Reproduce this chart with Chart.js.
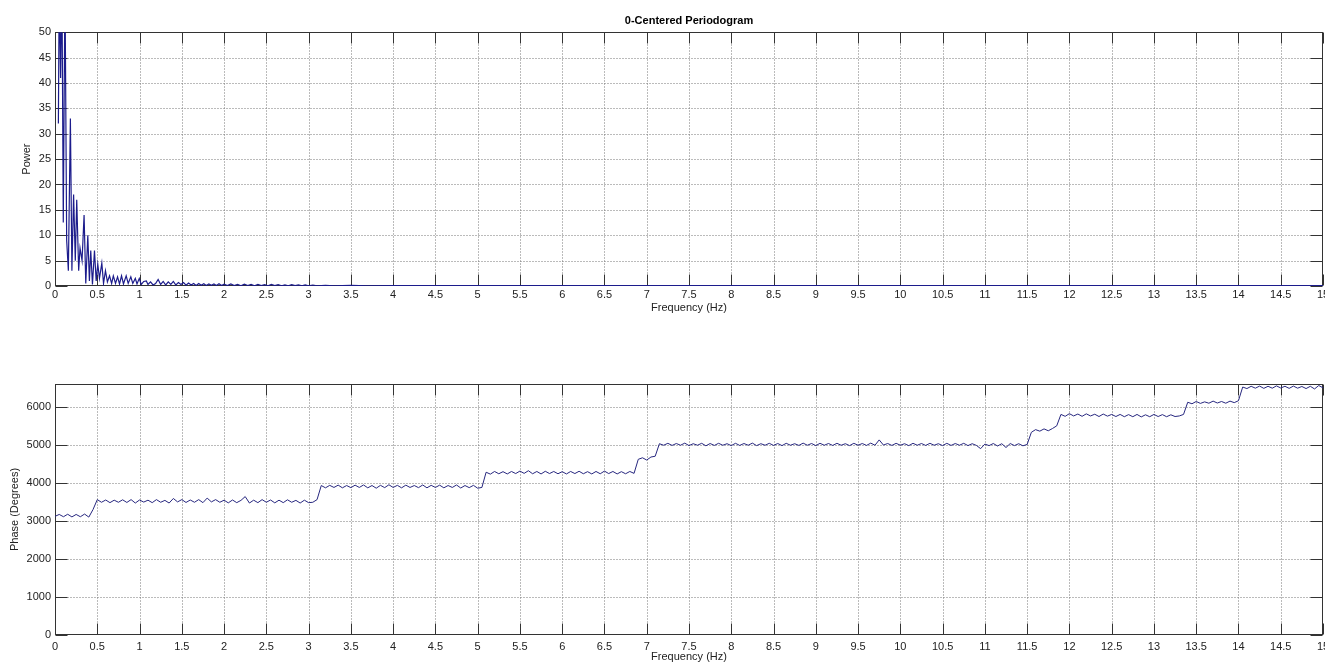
<!DOCTYPE html>
<html><head><meta charset="utf-8">
<script src="https://cdn.jsdelivr.net/npm/chart.js@4.4.1/dist/chart.umd.min.js"></script>
<style>
html,body{margin:0;padding:0;background:#fff;width:1325px;height:666px;overflow:hidden}
canvas{position:absolute;left:0}
#c1{top:0}
#c2{top:340px}
</style></head><body>
<canvas id="c1" width="1325" height="330"></canvas>
<canvas id="c2" width="1325" height="326"></canvas>
<script>
// ---------- data ----------
const chartTitle = '0-Centered Periodogram';
const xLabel = 'Frequency (Hz)';
const yLabelTop = 'Power';
const yLabelBottom = 'Phase (Degrees)';

// tick values
const freqTicks = [0,0.5,1,1.5,2,2.5,3,3.5,4,4.5,5,5.5,6,6.5,7,7.5,8,8.5,9,9.5,10,10.5,11,11.5,12,12.5,13,13.5,14,14.5,15];
const powerTicks = [0,5,10,15,20,25,30,35,40,45,50];
const phaseTicks = [0,1000,2000,3000,4000,5000,6000];
const freqRange = [0, 15];
const powerRange = [0, 50];
const phaseRange = [0, 6600];

// periodogram: frequency (Hz) and power
const powerFreq = [
  0.04,0.05,0.066,0.082,0.098,0.118,0.138,0.158,0.182,0.2,0.22,0.24,0.257,0.28,0.296,0.32,0.344,0.364,0.388,0.407,
  0.423,0.443,0.467,0.487,0.506,0.526,0.554,0.574,0.597,0.62,0.645,0.67,0.69,0.716,0.74,0.763,0.787,0.81,0.842,0.866,
  0.897,0.92,0.95,0.97,0.997,1.02,1.05,
  1.08,1.1,1.13,1.16,1.19,1.22,1.25,1.28,1.31,1.34,1.37,1.4,1.43,1.46,1.49,1.52,1.55,1.58,1.61,1.64,
  1.67,1.7,1.73,1.76,1.79,1.82,1.85,1.88,1.91,1.94,1.97,
  2.0,2.04,2.08,2.12,2.16,2.2,2.24,2.28,2.32,2.36,2.4,2.44,2.48,2.52,2.56,2.6,2.64,2.68,2.72,2.76,
  2.8,2.84,2.88,2.92,2.96,3.0,
  3.05,3.1,3.2,3.3,3.5,3.7,4,4.5,5,6,7,8,9,10,11,12,13,14,15
];
const power = [
  32,60,41,60,12.5,60,9,3,33,3,18,5,17,3,7.5,5,14,0.5,10,1,
  7,0.3,7,1,4.3,1.5,4.5,0.5,3,0.8,2,0.5,2,0.5,1.8,0.4,2,0.4,2,0.5,
  1.8,0.5,1.5,0.4,1.5,0.3,0.9,
  1.0,0.3,0.8,0.2,0.5,1.3,0.3,0.9,0.2,0.8,0.3,0.9,0.2,0.7,0.3,0.7,0.15,0.6,0.2,0.5,
  0.1,0.5,0.15,0.45,0.1,0.4,0.15,0.4,0.1,0.45,0.1,
  0.35,0.1,0.4,0.1,0.3,0.05,0.35,0.1,0.3,0.05,0.3,0.1,0.25,0.05,0.3,0.1,0.25,0.05,0.2,0.05,
  0.25,0.1,0.2,0.05,0.2,0.05,
  0.2,0.05,0.15,0.05,0.12,0.05,0.1,0.08,0.1,0.08,0.1,0.08,0.1,0.08,0.1,0.08,0.1,0.08,0.1
];

// phase (degrees), one value per 0.05 Hz bin from 0 to 15 Hz
const phaseBinWidth = 0.05;
const phase = [
  3120,3170,3110,3175,3105,3170,3110,3180,3100,3300,3560,3490,3550,3480,3545,3490,3555,3485,3560,3470,
  3550,3495,3545,3480,3560,3490,3540,3470,3590,3500,3560,3485,3550,3490,3560,3480,3600,3500,3560,3490,
  3545,3475,3550,3480,3540,3640,3470,3545,3480,3560,3490,3550,3475,3545,3480,3555,3490,3540,3470,3545,
  3480,3490,3560,3930,3870,3935,3880,3940,3870,3930,3875,3940,3880,3945,3870,3930,3860,3935,3875,3950,
  3880,3935,3870,3940,3880,3930,3875,3945,3870,3935,3880,3940,3870,3930,3880,3945,3865,3930,3875,3935,
  3860,3880,4280,4230,4300,4240,4295,4235,4300,4245,4310,4250,4320,4240,4300,4235,4305,4245,4300,4240,
  4295,4235,4300,4245,4305,4240,4295,4235,4300,4240,4310,4245,4300,4235,4295,4240,4300,4250,4620,4660,
  4600,4680,4700,5030,4990,5040,4985,5035,4990,5045,4980,5030,4990,5040,4975,5035,4985,5040,4990,5030,
  4980,5040,4985,5035,4990,5045,4980,5030,4990,5040,4985,5035,4980,5040,4990,5030,4985,5045,4990,5035,
  4980,5040,4990,5035,4985,5040,4990,5030,4980,5040,4990,5035,4985,5045,4990,5130,4995,5035,4985,5040,
  4990,5030,4980,5040,4990,5035,4985,5040,4990,5030,4980,5040,4985,5035,4990,5040,4980,5030,4985,4900,
  5020,4980,5035,4970,5030,4930,5035,4980,5030,4975,5010,5330,5400,5360,5420,5370,5430,5500,5800,5750,
  5820,5760,5810,5750,5815,5760,5805,5745,5810,5755,5800,5745,5800,5740,5795,5740,5800,5735,5790,5740,
  5800,5745,5795,5740,5790,5745,5760,5800,6120,6080,6140,6090,6130,6095,6150,6100,6140,6095,6150,6110,
  6160,6520,6480,6540,6490,6545,6485,6540,6490,6550,6495,6540,6485,6545,6490,6535,6480,6540,6470,6560,
  6500
];
const phaseFreq = phase.map((_, i) => +(i * phaseBinWidth).toFixed(2));

// ---------- styling ----------
const FONT = "'Liberation Sans', Arial, Helvetica, sans-serif";
Chart.defaults.font.family = FONT;
Chart.defaults.font.size = 11;
Chart.defaults.color = '#222';
Chart.defaults.animation = false;

const matlabAxes = {
  id: 'matlabAxes',
  beforeDatasetsDraw(chart) {
    const {ctx, chartArea: a, scales: {x, y}} = chart;
    const line = (x1, y1, x2, y2) => { ctx.beginPath(); ctx.moveTo(x1, y1); ctx.lineTo(x2, y2); ctx.stroke(); };
    const xs = x.ticks.map(t => Math.round(x.getPixelForValue(t.value)) + 0.5);
    const ys = y.ticks.map(t => Math.round(y.getPixelForValue(t.value)) + 0.5);
    const L = Math.round(a.left) + 0.5, R = Math.round(a.right) - 0.5;
    const T = Math.round(a.top) + 0.5, B = Math.round(a.bottom) - 0.5;
    ctx.save();
    ctx.lineWidth = 1;
    ctx.strokeStyle = '#777';
    ctx.setLineDash([1, 2]);
    xs.forEach(px => { if (px > L + 2 && px < R - 2) line(px, T, px, B); });
    ys.forEach(py => { if (py > T + 2 && py < B - 2) line(L, py, R, py); });
    ctx.setLineDash([]);
    ctx.strokeStyle = '#333';
    xs.forEach(px => { line(px, B, px, B - 11); line(px, T, px, T + 11); });
    ys.forEach(py => { line(L, py, L + 12, py); line(R, py, R - 12, py); });
    ctx.strokeRect(L, T, R - L, B - T);
    ctx.restore();
  }
};

const fmt = v => String(Math.round(v * 10) / 10);

function xScale(tickPad, titlePad, boxHeight) {
  return {
    type: 'linear', min: freqRange[0], max: freqRange[1],
    ticks: { autoSkip: false, maxRotation: 0, minRotation: 0, padding: tickPad, color: '#222', callback: fmt },
    grid: { display: false, drawTicks: false },
    border: { display: false },
    title: { display: true, text: xLabel, color: '#222', font: { size: 11 }, padding: { top: 0, bottom: titlePad } },
    afterBuildTicks(s) { s.ticks = freqTicks.map(v => ({ value: v })); },
    afterFit(s) { s.height = boxHeight; s.paddingLeft = 0; s.paddingRight = 0; }
  };
}
function yScale(range, tickValues, label, titlePad) {
  return {
    type: 'linear', min: range[0], max: range[1],
    ticks: { autoSkip: false, padding: 4, color: '#222', callback: fmt },
    grid: { display: false, drawTicks: false },
    border: { display: false },
    title: { display: true, text: label, color: '#222', font: { size: 11 }, padding: { top: titlePad, bottom: 0 } },
    afterBuildTicks(s) { s.ticks = tickValues.map(v => ({ value: v })); },
    afterFit(s) { s.width = 55; s.paddingTop = 0; s.paddingBottom = 0; }
  };
}

new Chart(document.getElementById('c1'), {
  type: 'line',
  data: { datasets: [{
    data: powerFreq.map((f, i) => ({ x: f, y: power[i] })),
    borderColor: '#1c1c8c', borderWidth: 1.2, pointRadius: 0, tension: 0, fill: false
  }]},
  options: {
    responsive: false, animation: false, events: [],
    layout: { padding: { top: 0, right: 2, left: 0, bottom: 0 } },
    plugins: {
      legend: { display: false }, tooltip: { enabled: false },
      title: { display: true, text: chartTitle, fullSize: false, color: '#000',
               font: { size: 11, weight: 'bold' }, padding: { top: 14.4, bottom: 4.6 } }
    },
    scales: {
      x: xScale(2.5, 15.4, 44),
      y: yScale(powerRange, powerTicks, yLabelTop, 20.4)
    }
  },
  plugins: [matlabAxes]
});

new Chart(document.getElementById('c2'), {
  type: 'line',
  data: { datasets: [{
    data: phaseFreq.map((f, i) => ({ x: f, y: phase[i] })),
    borderColor: '#27277f', borderWidth: 1, pointRadius: 0, tension: 0, fill: false
  }]},
  options: {
    responsive: false, animation: false, events: [],
    layout: { padding: { top: 44, right: 2, left: 0, bottom: 0 } },
    plugins: { legend: { display: false }, tooltip: { enabled: false } },
    scales: {
      x: xScale(5, 2.4, 31),
      y: yScale(phaseRange, phaseTicks, yLabelBottom, 8.4)
    }
  },
  plugins: [matlabAxes]
});
</script>
</body></html>
